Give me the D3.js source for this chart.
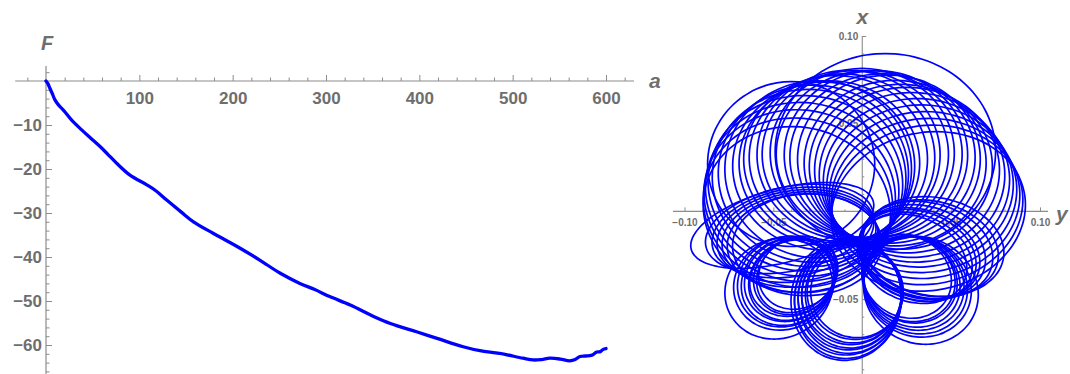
<!DOCTYPE html>
<html><head><meta charset="utf-8">
<script src="https://cdn.jsdelivr.net/npm/d3@7"></script>
<style>
body{margin:0;background:#fff}
svg{display:block}
text{font-family:"Liberation Sans",Arial,sans-serif;font-weight:bold;fill:#6e6e6e}
</style>
</head><body>
<svg id="c" width="1070" height="374"></svg>
<script>
// ---- Left panel: F versus a ----
const aValues = [0, 2, 4.3, 7, 9.6, 14, 18.6, 27.5, 38.2, 48, 57.9, 66, 75.7, 90, 108, 118, 129, 145, 158, 179, 208, 229, 251, 272, 288, 304, 326, 351, 369, 397, 419, 447, 465, 486, 511, 522, 531, 540, 551, 561, 567, 572, 578, 585, 590, 594, 597, 600];
const fValues = [0, -0.6, -1.7, -3.0, -4.3, -5.6, -6.6, -8.9, -11.1, -13.0, -14.9, -16.6, -18.7, -21.4, -23.6, -25.0, -27.0, -29.8, -32.0, -34.6, -38.0, -40.7, -43.7, -46.0, -47.4, -49.0, -50.9, -53.5, -55.1, -57.0, -58.5, -60.4, -61.3, -61.9, -63.0, -63.4, -63.3, -63.0, -63.2, -63.6, -63.3, -62.6, -62.5, -62.3, -61.6, -61.5, -61.0, -60.8];
const aTicks = [100, 200, 300, 400, 500, 600];
const fTicks = [-10, -20, -30, -40, -50, -60];

// ---- Right panel: orbit in the (y, x) plane, one record per visible loop ----
// loop centre (y, x), semi-axes along y and x, tilt in degrees
const loopY = [
  // upper loops, left to right
  -0.0368, -0.0362, -0.0352, -0.0338, -0.0320, -0.0299, -0.0275, -0.0248, -0.0217, -0.0185,
  -0.0150, -0.0114, -0.0077, -0.0039, 0.0000, 0.0039, 0.0077, 0.0114, 0.0150, 0.0185,
  0.0217, 0.0252, 0.0280, 0.0305, 0.0325, 0.0342, 0.0356, 0.0366, 0.0372,
  0.0130, -0.0400,
  // left, flat
  -0.045, -0.041, -0.039, -0.037, -0.035, -0.033, -0.031,
  // bottom-left
  -0.047, -0.044, -0.043, -0.042, -0.041, -0.040, -0.039, -0.038, -0.037, -0.036,
  // bottom centre
  -0.009, -0.008, -0.008, -0.007, -0.007, -0.006, -0.006, -0.005, -0.004, -0.003,
  // bottom-right
  0.033, 0.031, 0.030, 0.029, 0.028, 0.027, 0.026, 0.025,
  // right, lower
  0.040, 0.038, 0.036, 0.034, 0.032, 0.031, 0.030, 0.028];
const loopX = [
  0.0010, 0.0050, 0.0090, 0.0125, 0.0160, 0.0190, 0.0215, 0.0240, 0.0259, 0.0275,
  0.0298, 0.0306, 0.0322, 0.0325, 0.0333, 0.0326, 0.0322, 0.0309, 0.0298, 0.0275,
  0.0255, 0.0235, 0.0208, 0.0177, 0.0145, 0.0110, 0.0074, 0.0037, 0.0000,
  0.0340, 0.0270,
  -0.008, -0.010, -0.012, -0.014, -0.016, -0.018, -0.019,
  -0.044, -0.041, -0.040, -0.040, -0.039, -0.039, -0.038, -0.037, -0.036, -0.035,
  -0.050, -0.050, -0.049, -0.049, -0.048, -0.048, -0.047, -0.047, -0.046, -0.046,
  -0.045, -0.043, -0.042, -0.041, -0.040, -0.039, -0.038, -0.037,
  -0.020, -0.021, -0.022, -0.023, -0.024, -0.025, -0.026, -0.027];
const loopRY = [
  0.0530, 0.0535, 0.0540, 0.0545, 0.0548, 0.0545, 0.0535, 0.0525, 0.0512, 0.0508,
  0.0517, 0.0522, 0.0515, 0.0524, 0.0518, 0.0523, 0.0516, 0.0521, 0.0514, 0.0512,
  0.0515, 0.0520, 0.0522, 0.0524, 0.0525, 0.0528, 0.0532, 0.0540, 0.0550,
  0.0620, 0.0470,
  0.053, 0.048, 0.046, 0.045, 0.044, 0.043, 0.042,
  0.031, 0.029, 0.028, 0.027, 0.026, 0.025, 0.025, 0.024, 0.024, 0.023,
  0.031, 0.030, 0.030, 0.029, 0.029, 0.028, 0.028, 0.027, 0.027, 0.026,
  0.033, 0.031, 0.030, 0.029, 0.028, 0.027, 0.027, 0.026,
  0.040, 0.039, 0.038, 0.036, 0.035, 0.034, 0.033, 0.032];
const loopRX = [
  0.0470, 0.0480, 0.0488, 0.0495, 0.0500, 0.0505, 0.0505, 0.0505, 0.0478, 0.0470,
  0.0477, 0.0478, 0.0482, 0.0478, 0.0482, 0.0477, 0.0481, 0.0476, 0.0479, 0.0472,
  0.0470, 0.0472, 0.0470, 0.0466, 0.0462, 0.0458, 0.0455, 0.0452, 0.0450,
  0.0560, 0.0470,
  0.021, 0.024, 0.025, 0.026, 0.027, 0.028, 0.029,
  0.028, 0.026, 0.025, 0.024, 0.023, 0.022, 0.021, 0.021, 0.020, 0.020,
  0.035, 0.034, 0.033, 0.032, 0.031, 0.030, 0.029, 0.028, 0.027, 0.026,
  0.030, 0.028, 0.027, 0.026, 0.025, 0.024, 0.024, 0.023,
  0.028, 0.027, 0.027, 0.026, 0.025, 0.025, 0.024, 0.024];
const loopTilt = [
  -14, -12, -10, -8, -6, -4, -2, 0, 0, 0,
  0, 0, 0, 0, 0, 0, 0, 0, 0, 0,
  0, 0, 0, 2, 4, 6, 8, 10, 12,
  0, 0,
  15, 12, 10, 8, 6, 4, 2,
  30, 28, 32, 35, 30, 38, 26, 33, 40, 30,
  -8, -10, -12, -9, -11, -10, -13, -8, -10, -12,
  -30, -28, -32, -30, -35, -27, -31, -33,
  -10, -12, -14, -16, -18, -20, -22, -24];
const orbitTicksY = [-0.10, -0.05, 0.05, 0.10];
const orbitTicksX = [-0.05, 0.05, 0.10];

const svg = d3.select("#c");
svg.append("rect").attr("width",1070).attr("height",374).attr("fill","#fff");
const axisColor = "#8c8c8c";

function styleAxis(g, size){
  g.select(".domain").remove();
  g.selectAll(".tick line").attr("stroke", axisColor).attr("stroke-width", 1);
  g.selectAll(".tick text").attr("fill", "#6e6e6e").style("font-size", size + "px");
  g.attr("font-family", null).attr("font-size", null);
}

// ================= LEFT PANEL =================
const xL = d3.scaleLinear().domain([0, 600]).range([46, 606]);
const yL = d3.scaleLinear().domain([0, -60]).range([81, 345]);
const gL = svg.append("g");

gL.append("line").attr("x1", xL(-33)).attr("x2", xL(630)).attr("y1", yL(0)).attr("y2", yL(0))
  .attr("stroke", axisColor).attr("stroke-width", 1.2);
gL.append("line").attr("x1", xL(0)).attr("x2", xL(0)).attr("y1", yL(3.4)).attr("y2", 374)
  .attr("stroke", axisColor).attr("stroke-width", 1.2);

const aMinor = d3.range(-20, 621, 20).filter(v => v % 100 !== 0);
const fMinor = d3.range(2, -67, -2).filter(v => v % 10 !== 0);

const gxMaj = gL.append("g").attr("transform", `translate(0,${yL(0)})`)
  .call(d3.axisBottom(xL).tickValues(aTicks).tickSize(-6).tickPadding(10.5).tickFormat(d3.format("d")));
styleAxis(gxMaj, 17);
const gxMin = gL.append("g").attr("transform", `translate(0,${yL(0)})`)
  .call(d3.axisBottom(xL).tickValues(aMinor).tickSize(-3.5).tickFormat(""));
styleAxis(gxMin, 16);

const gyMaj = gL.append("g").attr("transform", `translate(${xL(0)},0)`)
  .call(d3.axisLeft(yL).tickValues(fTicks).tickSize(-6).tickPadding(4).tickFormat(d3.format("d")));
styleAxis(gyMaj, 17);
const gyMin = gL.append("g").attr("transform", `translate(${xL(0)},0)`)
  .call(d3.axisLeft(yL).tickValues(fMinor).tickSize(-3.5).tickFormat(""));
styleAxis(gyMin, 16);

gL.append("text").attr("x", xL(0) + 1).attr("y", 50).attr("text-anchor", "middle")
  .style("font-size", "20px").style("font-style", "italic").text("F");
gL.append("text").attr("x", 649).attr("y", 88).attr("text-anchor", "start")
  .style("font-size", "21px").style("font-style", "italic").text("a");

const fData = aValues.map((a, i) => [a, fValues[i]]);
gL.append("path").datum(fData)
  .attr("fill", "none").attr("stroke", "#0000ff").attr("stroke-width", 3.3)
  .attr("stroke-linejoin", "round").attr("stroke-linecap", "round")
  .attr("d", d3.line().x(d => xL(d[0])).y(d => yL(d[1])).curve(d3.curveCatmullRom));

// ================= RIGHT PANEL =================
const xR = d3.scaleLinear().domain([-0.1, 0.1]).range([684.5, 1040]);
const yR = d3.scaleLinear().domain([-0.1, 0.1]).range([386.8, 36]);
const gR = svg.append("g");

gR.append("line").attr("x1", xR(-0.1065)).attr("x2", xR(0.1045)).attr("y1", yR(0)).attr("y2", yR(0))
  .attr("stroke", axisColor).attr("stroke-width", 1.1);
gR.append("line").attr("x1", xR(0)).attr("x2", xR(0)).attr("y1", yR(0.1)).attr("y2", 374)
  .attr("stroke", axisColor).attr("stroke-width", 1.1);

const rMinor = d3.range(-10, 11).filter(v => v % 5 !== 0).map(v => v / 100);
const fmt2 = d3.format(".2f");

const ghMaj = gR.append("g").attr("transform", `translate(0,${yR(0)})`)
  .call(d3.axisBottom(xR).tickValues(orbitTicksY).tickSize(-4).tickPadding(8).tickFormat(fmt2));
styleAxis(ghMaj, 10);
const ghMin = gR.append("g").attr("transform", `translate(0,${yR(0)})`)
  .call(d3.axisBottom(xR).tickValues(rMinor).tickSize(-2).tickFormat(""));
styleAxis(ghMin, 10);
const gvMaj = gR.append("g").attr("transform", `translate(${xR(0)},0)`)
  .call(d3.axisLeft(yR).tickValues(orbitTicksX).tickSize(-4).tickPadding(4).tickFormat(fmt2));
styleAxis(gvMaj, 10);
const gvMin = gR.append("g").attr("transform", `translate(${xR(0)},0)`)
  .call(d3.axisLeft(yR).tickValues(rMinor).tickSize(-2).tickFormat(""));
styleAxis(gvMin, 10);

gR.append("text").attr("x", xR(0)).attr("y", 24).attr("text-anchor", "middle")
  .style("font-size", "21px").style("font-style", "italic").text("x");
gR.append("text").attr("x", 1056).attr("y", 221).attr("text-anchor", "start")
  .style("font-size", "21px").style("font-style", "italic").text("y");

const angles = d3.range(0, 72).map(k => k * 2 * Math.PI / 72);
const loops = loopY.map((cy, i) => ({cy, cx: loopX[i], ry: loopRY[i], rx: loopRX[i], t: loopTilt[i] * Math.PI / 180}));
const loopLine = d3.line().x(p => xR(p[0])).y(p => yR(p[1])).curve(d3.curveCardinalClosed);
gR.append("g").selectAll("path").data(loops).join("path")
  .attr("fill", "none").attr("stroke", "#0000ff").attr("stroke-width", 1.7)
  .attr("d", L => loopLine(angles.map(th => {
      const u = L.ry * Math.cos(th), w = L.rx * Math.sin(th);
      return [L.cy + u * Math.cos(L.t) - w * Math.sin(L.t), L.cx + u * Math.sin(L.t) + w * Math.cos(L.t)];
  })));
</script>
</body></html>
